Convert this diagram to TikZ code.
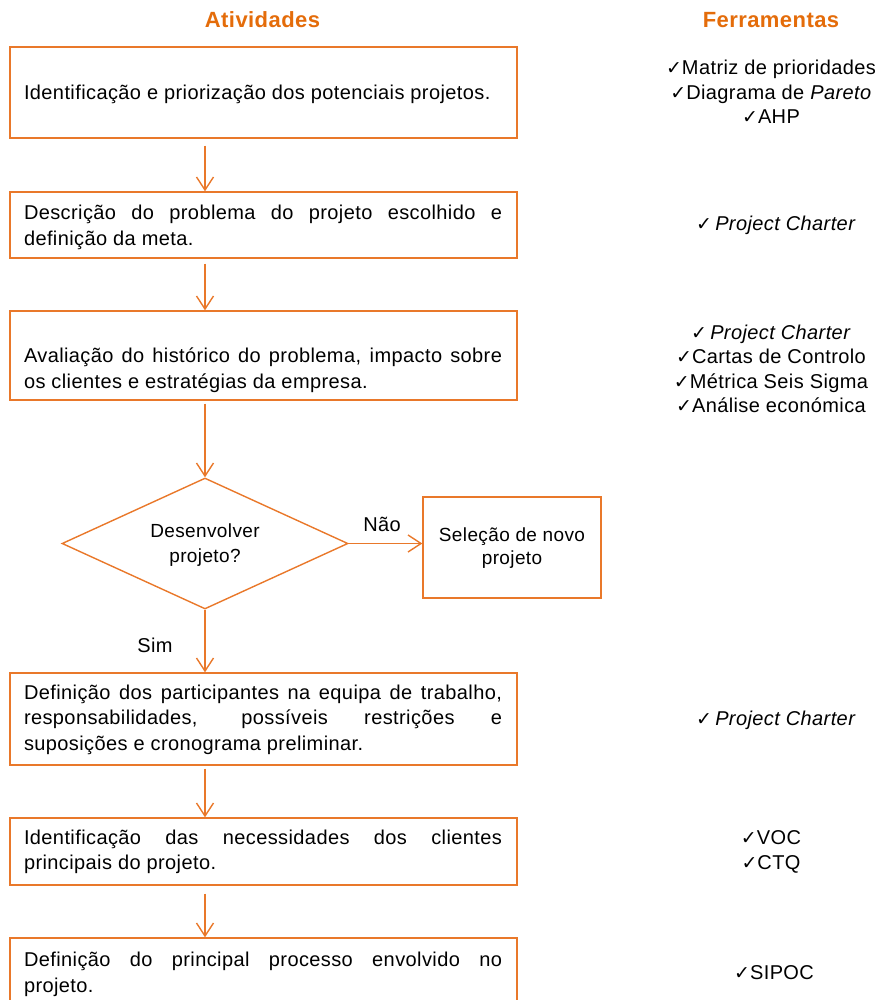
\documentclass[tikz,border=0pt]{standalone}
\usepackage{fontspec}
\setmainfont{Liberation Sans}[LetterSpace=2]
\newfontfamily\checkfont{DejaVu Sans}
\usetikzlibrary{shapes.geometric,arrows.meta}
\definecolor{lineorange}{HTML}{E9782A}
\definecolor{titleorange}{HTML}{E46C0A}
\newcommand\ck{{\checkfont\fontsize{19}{20}\selectfont ✓}}
% no hyphenation in the justified box texts
\hyphenpenalty=10000
\exhyphenpenalty=10000
\tolerance=10000
\begin{document}
\begin{tikzpicture}[x=1pt,y=-1pt,
  box/.style={draw=lineorange,line width=1.4pt,rectangle,minimum width=507pt,inner sep=0pt},
  txt/.style={text width=478pt,align=justify,inner sep=0pt,
    font=\fontsize{20}{25.5}\selectfont},
  tool/.style={align=center,inner sep=0pt,font=\fontsize{20}{24.5}\selectfont},
  head/.style={text=titleorange,inner sep=0pt,font=\fontsize{22}{26}\selectfont\bfseries},
  lbl/.style={inner sep=0pt,font=\fontsize{20}{24}\selectfont},
  arr/.style={draw=lineorange,line width=1.4pt,-{Straight Barb[length=13pt,width=17pt]}}]
\useasboundingbox (0,0) rectangle (875,1000);
\clip (0,0) rectangle (875,1000);

% column headings
\node[head] (hA) at (262.5,20) {Atividades};
\node[head] (hF) at (771,20) {Ferramentas};

% activity boxes
\node[box,minimum height=91pt] (b1) at (263.5,92.5) {};
\node[txt] (t1) at (263,94) {Identificação e priorização dos potenciais projetos.};

\node[box,minimum height=66pt] (b2) at (263.5,225) {};
\node[txt] (t2) at (263,227.5) {Descrição do problema do projeto escolhido e\linebreak definição da meta.};

\node[box,minimum height=89pt] (b3) at (263.5,355.5) {};
\node[txt] (t3) at (263,370) {Avaliação do histórico do problema, impacto sobre\linebreak os clientes e estratégias da empresa.};

\node[diamond,draw=lineorange,line width=1.4pt,minimum width=286pt,minimum height=131pt,
  aspect=2.18,inner sep=0pt] (dec) at (205,543.5) {};
\node[lbl,align=center,font=\fontsize{19}{25}\selectfont] (dtxt) at (205,545.5) {Desenvolver\\projeto?};

\node[box,minimum width=178pt,minimum height=101pt] (sel) at (512,547.5) {};
\node[lbl,align=center,font=\fontsize{19}{23}\selectfont] (stxt) at (512,548.5) {Seleção de novo\\projeto};

\node[box,minimum height=92pt] (b4) at (263.5,719) {};
\node[txt] (t4) at (263,719.5) {Definição dos participantes na equipa de trabalho,\linebreak responsabilidades, possíveis restrições e\linebreak suposições e cronograma preliminar.};

\node[box,minimum height=67pt] (b5) at (263.5,851.5) {};
\node[txt] (t5) at (263,852) {Identificação das necessidades dos clientes\linebreak principais do projeto.};

\node[box,minimum height=77pt] (b6) at (263.5,976.5) {};
\node[txt] (t6) at (263,974.5) {Definição do principal processo envolvido no\linebreak projeto.};

% tools column
\node[tool] (f1) at (771,92) {\ck Matriz de prioridades\\\ck Diagrama de \textit{Pareto}\\\ck AHP};
\node[tool] (f2) at (776,225) {\ck\,\textit{Project Charter}};
\node[tool] (f3) at (771,369) {\ck\,\textit{Project Charter}\\\ck Cartas de Controlo\\\ck Métrica Seis Sigma\\\ck Análise económica};
\node[tool] (f4) at (776,720) {\ck\,\textit{Project Charter}};
\node[tool] (f5) at (771,852) {\ck VOC\\\ck CTQ};
\node[tool] (f6) at (774,973) {\ck SIPOC};

% connectors
\draw[arr,shorten <=7pt] (b1.south -| dec) -- (b2.north -| dec);
\draw[arr,shorten <=5pt] (b2.south -| dec) -- (b3.north -| dec);
\draw[arr,shorten <=3pt] (b3.south -| dec) -- (dec.north);
\draw[arr] (dec.south) -- (b4.north -| dec);
\draw[arr] (dec.east) -- (dec.east -| sel.west);
\draw[arr,shorten <=3pt] (b4.south -| dec) -- (b5.north -| dec);
\draw[arr,shorten <=8pt] (b5.south -| dec) -- (b6.north -| dec);

% branch labels
\node[lbl] (no) at (382,524) {Não};
\node[lbl] (yes) at (155,645) {Sim};
\end{tikzpicture}
\end{document}
